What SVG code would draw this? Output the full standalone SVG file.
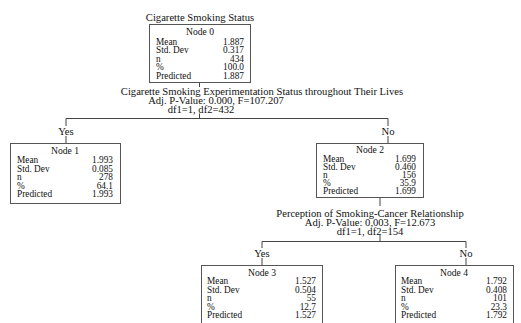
<svg xmlns="http://www.w3.org/2000/svg" width="521" height="323" viewBox="0 0 521 323">
<style>
text{font-family:"Liberation Serif","Times New Roman",serif;fill:#111}
.t{font-size:10.6px;text-anchor:middle}
.h{font-size:9.6px;text-anchor:middle}
.l{font-size:9.3px}
.v{font-size:9.3px;text-anchor:end}
.box{fill:#fff;stroke:#555;stroke-width:1}
.c{fill:none;stroke:#444;stroke-width:1}
</style>
<rect width="521" height="323" fill="#fff"/>
<g id="connectors">
<path class="c" d="M199.5 82V87M199.5 113.5V118.5M66 118.5H388M66 118.5V126M66 136V143M388 118.5V126M388 136V143"/>
<path class="c" d="M380 197V206M380 235V241.5M262 241.5H466M262 241.5V248M262 258V265M466 241.5V248M466 258V265"/>
</g>
<g id="split0">
<text class="t" x="200" y="21">Cigarette Smoking Status</text>
<text class="t" x="262" y="95">Cigarette Smoking Experimentation Status throughout Their Lives</text>
<text class="t" x="216" y="104">Adj. P-Value: 0.000, F=107.207</text>
<text class="t" x="201" y="113">df1=1, df2=432</text>
<text class="t" x="66" y="135">Yes</text>
<text class="t" x="388" y="135">No</text>
</g>
<g id="split2">
<text class="t" x="370" y="217">Perception of Smoking-Cancer Relationship</text>
<text class="t" x="370" y="226">Adj. P-Value: 0,003, F=12.673</text>
<text class="t" x="370" y="234.5">df1=1, df2=154</text>
<text class="t" x="262" y="256.5">Yes</text>
<text class="t" x="466" y="256.5">No</text>
</g>
<g id="node0">
<rect class="box" x="149.5" y="24.5" width="101" height="58"/>
<text class="h" x="200" y="35">Node 0</text>
<text class="l" x="156" y="44.5">Mean</text><text class="v" x="244" y="44.5">1.887</text>
<text class="l" x="156" y="53">Std. Dev</text><text class="v" x="244" y="53">0.317</text>
<text class="l" x="156" y="61.5">n</text><text class="v" x="244" y="61.5">434</text>
<text class="l" x="156" y="70">%</text><text class="v" x="244" y="70">100.0</text>
<text class="l" x="156" y="78.5">Predicted</text><text class="v" x="244" y="78.5">1.887</text>
</g>
<g id="node1">
<rect class="box" x="10.5" y="143.5" width="110" height="60"/>
<text class="h" x="65" y="154">Node 1</text>
<text class="l" x="17" y="163">Mean</text><text class="v" x="113" y="163">1.993</text>
<text class="l" x="17" y="171.5">Std. Dev</text><text class="v" x="113" y="171.5">0.085</text>
<text class="l" x="17" y="180">n</text><text class="v" x="113" y="180">278</text>
<text class="l" x="17" y="188.5">%</text><text class="v" x="113" y="188.5">64.1</text>
<text class="l" x="17" y="197">Predicted</text><text class="v" x="113" y="197">1.993</text>
</g>
<g id="node2">
<rect class="box" x="316.5" y="143.5" width="107" height="54"/>
<text class="h" x="370" y="153">Node 2</text>
<text class="l" x="323" y="161.5">Mean</text><text class="v" x="416" y="161.5">1.699</text>
<text class="l" x="323" y="169.5">Std. Dev</text><text class="v" x="416" y="169.5">0.460</text>
<text class="l" x="323" y="177.5">n</text><text class="v" x="416" y="177.5">156</text>
<text class="l" x="323" y="185.5">%</text><text class="v" x="416" y="185.5">35.9</text>
<text class="l" x="323" y="193.5">Predicted</text><text class="v" x="416" y="193.5">1.699</text>
</g>
<g id="node3">
<rect class="box" x="201.5" y="265.5" width="121" height="60"/>
<text class="h" x="262" y="275.5">Node 3</text>
<text class="l" x="207" y="284">Mean</text><text class="v" x="316" y="284">1.527</text>
<text class="l" x="207" y="292.5">Std. Dev</text><text class="v" x="316" y="292.5">0.504</text>
<text class="l" x="207" y="301">n</text><text class="v" x="316" y="301">55</text>
<text class="l" x="207" y="309.5">%</text><text class="v" x="316" y="309.5">12.7</text>
<text class="l" x="207" y="318">Predicted</text><text class="v" x="316" y="318">1.527</text>
</g>
<g id="node4">
<rect class="box" x="395.5" y="265.5" width="118" height="60"/>
<text class="h" x="454" y="275.5">Node 4</text>
<text class="l" x="401" y="284">Mean</text><text class="v" x="507" y="284">1.792</text>
<text class="l" x="401" y="292.5">Std. Dev</text><text class="v" x="507" y="292.5">0.408</text>
<text class="l" x="401" y="301">n</text><text class="v" x="507" y="301">101</text>
<text class="l" x="401" y="309.5">%</text><text class="v" x="507" y="309.5">23.3</text>
<text class="l" x="401" y="318">Predicted</text><text class="v" x="507" y="318">1.792</text>
</g>
</svg>
